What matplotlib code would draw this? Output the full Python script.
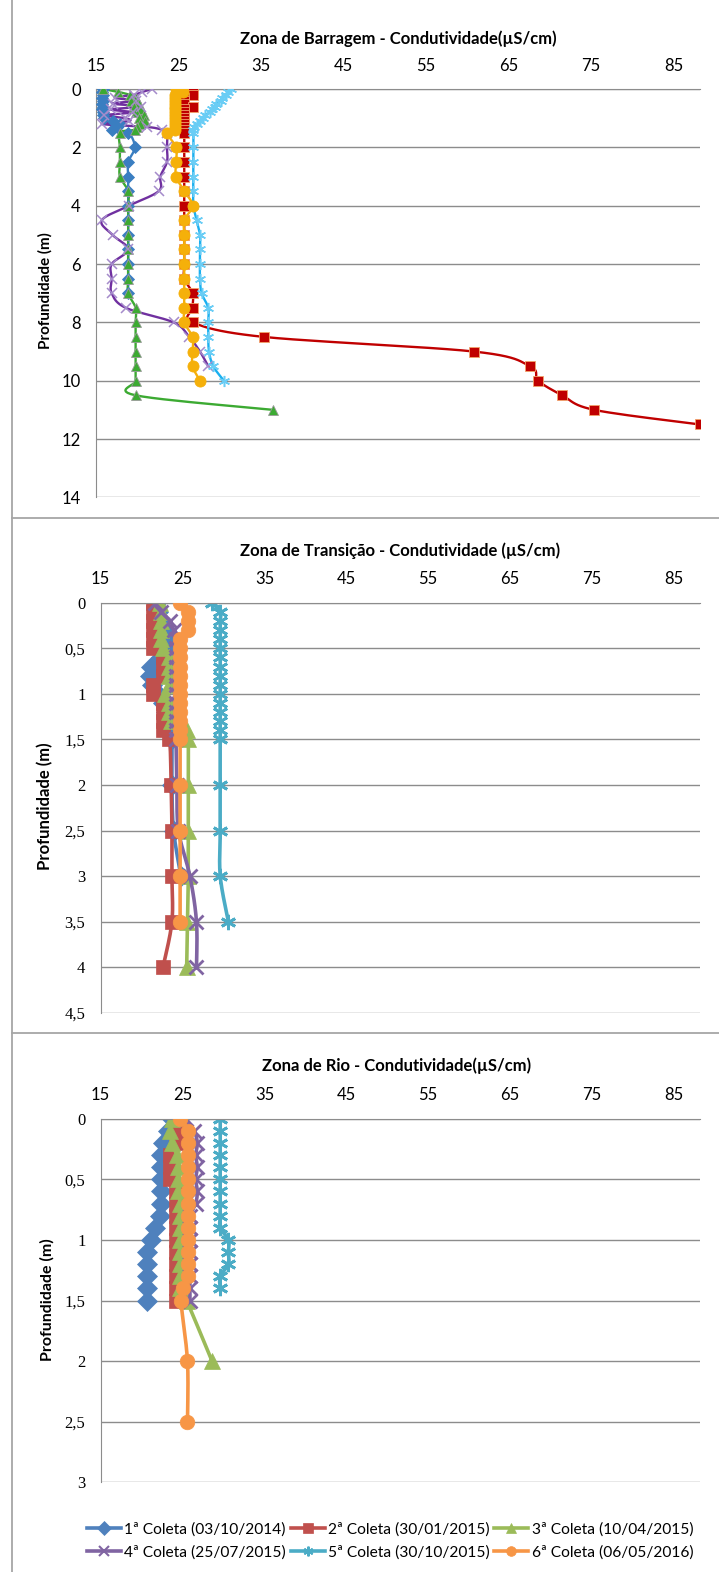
import numpy as np
import matplotlib
matplotlib.use('Agg')
import matplotlib.pyplot as plt
from matplotlib.lines import Line2D

plt.rcParams['font.family'] = ['Lato', 'DejaVu Sans']

W, H = 719, 1572

nomes = ['1ª Coleta (03/10/2014)', '2ª Coleta (30/01/2015)', '3ª Coleta (10/04/2015)',
         '4ª Coleta (25/07/2015)', '5ª Coleta (30/10/2015)', '6ª Coleta (06/05/2016)']

x_ticks = [15, 25, 35, 45, 55, 65, 75, 85]

# profundidades de superficie (0 a 1,5 m)
sup = [0.0, 0.1, 0.2, 0.3, 0.4, 0.5, 0.6, 0.7, 0.8, 0.9, 1.0, 1.1, 1.2, 1.3, 1.4, 1.5]

# ---------------- Zona de Barragem ----------------
barr_prof = [
    sup + [2, 2.5, 3, 3.5, 4, 4.5, 5, 5.5, 6, 6.5, 7],
    sup + [2, 2.5, 3, 3.5, 4, 4.5, 5, 5.5, 6, 6.5, 7, 7.5, 8, 8.5, 9, 9.5, 10, 10.5, 11, 11.5],
    sup + [2, 2.5, 3, 3.5, 4, 4.5, 5, 5.5, 6, 6.5, 7, 7.5, 8, 8.5, 9, 9.5, 10, 10.5, 11],
    sup + [2, 2.5, 3, 3.5, 4, 4.5, 5, 5.5, 6, 6.5, 7, 7.5, 8, 8.5, 9, 9.5],
    sup + [2, 2.5, 3, 3.5, 4, 4.5, 5, 5.5, 6, 6.5, 7, 7.5, 8, 8.5, 9, 9.5, 10],
    sup + [2, 2.5, 3, 3.5, 4, 4.5, 5, 5.5, 6, 6.5, 7, 7.5, 8, 8.5, 9, 9.5, 10],
]
barr_cond = [
    [15.8, 15.7, 15.8, 15.7, 15.8, 15.7, 15.8, 15.7, 15.8, 15.8, 16.0, 17.0, 17.9, 17.5, 16.9, 18.9,
     19.7, 18.9, 18.9, 18.9, 18.9, 18.9, 18.9, 18.9, 18.9, 18.9, 18.9],
    [26.7, 26.7, 26.7, 25.7, 25.7, 25.7, 26.7, 25.7, 25.7, 25.7, 25.7, 25.7, 25.7, 25.7, 25.7, 25.7,
     25.7, 25.7, 25.7, 25.7, 25.7, 25.7, 25.7, 25.7, 25.7, 25.7, 26.7, 26.7, 26.7, 35.4, 60.8, 67.6,
     68.6, 71.5, 75.4, 88.2],
    [15.9, 17.7, 19.1, 19.8, 19.3, 20.2, 19.6, 20.5, 19.9, 20.8, 20.2, 20.9, 20.3, 20.0, 19.7, 17.9,
     17.9, 17.9, 17.9, 18.9, 18.9, 18.9, 18.9, 18.9, 18.9, 18.9, 18.9, 19.8, 19.8, 19.8, 19.8, 19.8,
     19.8, 19.8, 36.5],
    [21.8, 20.6, 19.6, 17.3, 19.8, 17.0, 20.5, 16.8, 19.5, 16.0, 18.5, 19.0, 15.7, 21.2, 23.0, 23.6,
     23.6, 23.6, 22.8, 22.6, 19.0, 15.7, 17.0, 18.9, 16.9, 16.9, 16.9, 18.6, 24.4, 26.3, 27.6, 28.6],
    [31.4, 31.0, 30.8, 30.3, 30.1, 29.6, 29.4, 29.0, 28.8, 28.2, 28.0, 27.6, 27.3, 26.9, 26.7, 26.8,
     26.8, 26.8, 26.8, 26.8, 26.8, 27.2, 27.6, 27.6, 27.6, 27.6, 27.8, 28.6, 28.6, 28.6, 28.7, 29.2,
     30.5],
    [24.7, 25.5, 24.6, 24.6, 24.6, 24.6, 24.6, 24.6, 24.6, 24.6, 24.6, 24.6, 24.6, 24.6, 24.6, 23.6,
     24.7, 24.7, 24.7, 25.7, 26.7, 25.7, 25.7, 25.7, 25.7, 25.7, 25.7, 25.7, 25.7, 26.7, 26.7, 26.7,
     27.6],
]

# ---------------- Zona de Transicao ----------------
trans_prof = [
    sup + [2, 2.5, 3],
    sup + [2, 2.5, 3, 3.5, 4],
    sup + [2, 2.5, 3, 3.5, 4],
    sup + [2, 2.5, 3, 3.5, 4],
    sup + [2, 2.5, 3, 3.5],
    sup + [2, 2.5, 3, 3.5],
]
trans_cond = [
    [21.8, 22.0, 22.3, 22.8, 23.2, 23.0, 22.4, 21.2, 21.0, 21.3, 22.0, 22.6, 23.0, 23.3, 23.5, 23.7,
     23.7, 23.9, 24.8],
    [21.4, 21.4, 21.4, 21.4, 21.4, 21.4, 22.6, 22.6, 22.6, 21.4, 21.4, 22.6, 22.6, 22.6, 22.6, 23.4,
     23.6, 23.7, 23.7, 23.7, 22.6],
    [22.2, 22.4, 22.4, 22.4, 22.4, 22.6, 23.3, 23.3, 23.3, 23.3, 22.9, 23.3, 23.3, 23.6, 25.6, 25.7,
     25.7, 25.7, 25.7, 25.6, 25.5],
    [21.6, 22.4, 23.5, 23.9, 24.2, 24.2, 24.2, 24.2, 24.2, 24.2, 24.2, 24.2, 24.2, 24.2, 24.2, 24.2,
     24.3, 24.5, 25.9, 26.7, 26.7],
    [28.6, 29.6, 29.6, 29.6, 29.6, 29.6, 29.6, 29.6, 29.6, 29.6, 29.6, 29.6, 29.6, 29.6, 29.6, 29.6,
     29.6, 29.6, 29.6, 30.6],
    [24.7, 25.7, 25.7, 25.7, 24.7, 24.7, 24.7, 24.7, 24.7, 24.7, 24.7, 24.7, 24.7, 24.7, 24.7, 24.7,
     24.7, 24.7, 24.7, 24.7],
]

# ---------------- Zona de Rio ----------------
rio_prof = [
    sup,
    sup,
    sup + [2],
    sup,
    sup[:-1],
    sup + [2, 2.5],
]
rio_cond = [
    [23.7, 23.2, 22.6, 22.4, 22.4, 22.4, 22.4, 22.4, 22.2, 21.6, 21.2, 20.6, 20.6, 20.6, 20.6, 20.6],
    [24.7, 24.5, 24.2, 23.5, 23.5, 23.5, 24.2, 24.2, 24.2, 24.2, 24.2, 24.2, 24.2, 24.2, 24.2, 24.2],
    [23.7, 23.5, 23.7, 24.3, 24.5, 24.5, 24.5, 24.7, 24.7, 24.7, 24.7, 24.7, 24.7, 24.7, 24.7, 25.5,
     28.6],
    [25.4, 26.4, 26.8, 26.6, 26.8, 26.6, 26.8, 26.6, 25.9, 25.9, 25.9, 25.9, 25.9, 25.9, 25.9, 25.9],
    [29.6, 29.6, 29.6, 29.6, 29.6, 29.6, 29.6, 29.6, 29.6, 29.6, 30.6, 30.6, 30.6, 29.6, 29.6],
    [24.7, 25.7, 25.7, 25.7, 25.7, 25.7, 25.7, 25.7, 25.7, 25.7, 25.7, 25.7, 25.7, 25.7, 25.1, 24.8,
     25.6, 25.6],
]

cores_barr = ['#3A7EC1', '#C00000', '#3CAA32', '#7030A0', '#1AB0F0', '#F5B00A']
cores = ['#4F81BD', '#C0504D', '#9BBB59', '#8064A2', '#4BACC6', '#F79646']
marcadores = ['D', 's', '^', 'x', (6, 2, 0), 'o']


def smooth(x, y, n=12):
    # curva suavizada tipo Excel (Catmull-Rom)
    p = np.column_stack([x, y]).astype(float)
    if len(p) < 3:
        return p[:, 0], p[:, 1]
    p = np.vstack([p[0], p, p[-1]])
    t = np.linspace(0, 1, n, endpoint=False)[:, None]
    out = []
    for i in range(len(p) - 3):
        p0, p1, p2, p3 = p[i], p[i + 1], p[i + 2], p[i + 3]
        c = 0.5 * (2 * p1 + (-p0 + p2) * t + (2 * p0 - 5 * p1 + 4 * p2 - p3) * t ** 2
                   + (-p0 + 3 * p1 - 3 * p2 + p3) * t ** 3)
        out.append(c)
    out.append(p[-2][None, :])
    out = np.vstack(out)
    return out[:, 0], out[:, 1]


def add_ax(fig, left, top, right, bottom):
    return fig.add_axes([left / W, 1 - bottom / H, (right - left) / W, (bottom - top) / H])


def setup(ax, ymax, yticks, ylabels, yfont, ysize):
    ax.set_xlim(15, 88.2)
    ax.set_ylim(ymax, 0)
    ax.set_xticks(x_ticks)
    ax.xaxis.tick_top()
    ax.set_yticks(yticks)
    ax.set_yticklabels(ylabels, fontfamily=yfont, fontsize=ysize)
    ax.tick_params(axis='x', length=0, pad=11, labelsize=12)
    ax.tick_params(axis='y', length=0, pad=11)
    ax.grid(axis='y', color='#8C8C8C', lw=1)
    ax.grid(axis='x', visible=False)
    ax.spines['right'].set_visible(False)
    ax.spines['bottom'].set_visible(False)
    ax.spines['left'].set_color('#8C8C8C')
    ax.spines['top'].set_color('#8C8C8C')
    ax.set_axisbelow(True)


fig = plt.figure(figsize=(W / 100, H / 100), dpi=100)

# moldura dos graficos
fig.add_artist(Line2D([12 / W, 12 / W], [0, 1], transform=fig.transFigure, color='#A6A6A6', lw=1.3))
for yy in [518, 1033]:
    fig.add_artist(Line2D([12 / W, 1], [1 - yy / H, 1 - yy / H], transform=fig.transFigure,
                          color='#A6A6A6', lw=1.3))

# ---- painel 1
ax1 = add_ax(fig, 96, 89, 700, 497.4)
setup(ax1, 14, [0, 2, 4, 6, 8, 10, 12, 14], ['0', '2', '4', '6', '8', '10', '12', '14'],
      ['Lato'], 12)
ms_barr = [6, 7, 7, 7, 8, 8]
for i in range(6):
    xs, ys = smooth(barr_cond[i], barr_prof[i])
    ax1.plot(xs, ys, color=cores_barr[i], lw=1.7, zorder=2 + i * 0.1)
for i in range(6):
    ec = cores_barr[i]
    mew = 0.6
    if i == 1:
        ec = '#F2A36B'
    if i == 2:
        ec = '#9A9A9A'
    if i == 3:
        ec = '#A58BCB'
        mew = 1.1
    if i == 4:
        ec = '#6ACDF5'
        mew = 1.1
    ax1.plot(barr_cond[i], barr_prof[i], ls='none', marker=marcadores[i], ms=ms_barr[i],
             color=cores_barr[i], mec=ec, mew=mew, zorder=3 + i * 0.1)

# ---- painel 2
ax2 = add_ax(fig, 100.7, 602.7, 700, 1013)
yt2 = [0, 0.5, 1, 1.5, 2, 2.5, 3, 3.5, 4, 4.5]
setup(ax2, 4.5, yt2, ['0', '0,5', '1', '1,5', '2', '2,5', '3', '3,5', '4', '4,5'],
      ['Liberation Serif'], 12)

# ---- painel 3
ax3 = add_ax(fig, 100.7, 1118.7, 700, 1482.3)
yt3 = [0, 0.5, 1, 1.5, 2, 2.5, 3]
setup(ax3, 3, yt3, ['0', '0,5', '1', '1,5', '2', '2,5', '3'], ['Liberation Serif'], 12)

ms_of = [10, 10.5, 11, 10, 11, 10.5]
for ax, prof, cond in [(ax2, trans_prof, trans_cond), (ax3, rio_prof, rio_cond)]:
    for i in range(6):
        xs, ys = smooth(cond[i], prof[i])
        ax.plot(xs, ys, color=cores[i], lw=2.6, zorder=2 + i * 0.1)
        mew = 2.0 if i in (3, 4) else 0.5
        ax.plot(cond[i], prof[i], ls='none', marker=marcadores[i], ms=ms_of[i],
                color=cores[i], mew=mew, zorder=2.05 + i * 0.1)

# titulos
titulos = ['Zona de Barragem - Condutividade(µS/cm)',
           'Zona de Transição - Condutividade (µS/cm)',
           'Zona de Rio - Condutividade(µS/cm)']
for txt, (xc, yc) in zip(titulos, [(398, 39), (400, 551), (397, 1066)]):
    fig.text(xc / W, 1 - yc / H, txt, ha='center', va='center', fontsize=12, fontweight='bold')

for ax, (xc, yc, fs) in zip([ax1, ax2, ax3], [(45, 291, 11), (45, 806, 12), (47, 1300, 11.5)]):
    fig.text(xc / W, 1 - yc / H, 'Profundidade (m)', rotation=90, ha='center', va='center',
             fontsize=fs, fontweight='bold')

# legenda
handles = []
for i in range(6):
    mew = 1.5 if i in (3, 4) else 0.5
    handles.append(Line2D([], [], color=cores[i], lw=2.6, marker=marcadores[i], ms=7, mew=mew))
ordem = [0, 3, 1, 4, 2, 5]
fig.legend([handles[k] for k in ordem], [nomes[k] for k in ordem], loc='center',
           bbox_to_anchor=(390 / W, 1 - 1541 / H), ncol=3, frameon=False, fontsize=11.2,
           handlelength=2.2, handletextpad=0.2, columnspacing=0.3, labelspacing=0.55)

fig.savefig('out.png', dpi=100)
plt.close(fig)
